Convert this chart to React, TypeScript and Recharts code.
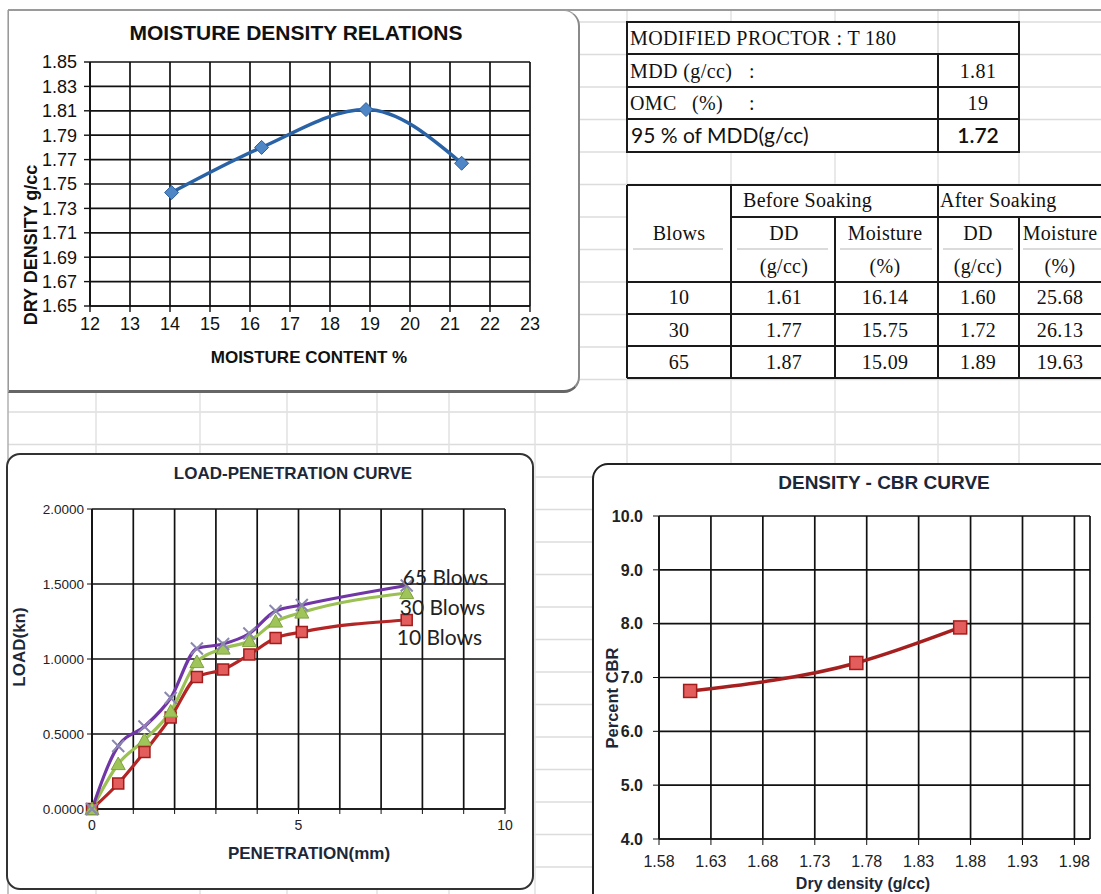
import React from 'react';
import { LineChart, Line, XAxis, YAxis, CartesianGrid, LabelList } from 'recharts';

// ---------- Moisture density relations ----------
const moistureContent = [14.04, 16.29, 18.9, 21.29];
const dryDensity = [1.743, 1.78, 1.811, 1.767];
const mdXTicks = [12, 13, 14, 15, 16, 17, 18, 19, 20, 21, 22, 23];
const mdYTicks = [1.65, 1.67, 1.69, 1.71, 1.73, 1.75, 1.77, 1.79, 1.81, 1.83, 1.85];

// ---------- Load-penetration curve ----------
const penetration = [0, 0.635, 1.27, 1.905, 2.54, 3.175, 3.81, 4.445, 5.08, 7.62];
const load10Blows = [0, 0.17, 0.38, 0.61, 0.88, 0.93, 1.03, 1.14, 1.18, 1.26];
const load30Blows = [0, 0.3, 0.46, 0.65, 0.98, 1.07, 1.12, 1.25, 1.31, 1.44];
const load65Blows = [0, 0.42, 0.55, 0.74, 1.07, 1.1, 1.17, 1.32, 1.36, 1.49];
const blowLabels = ['10 Blows', '30 Blows', '65 Blows'];
const lpXTicks = [0, 1, 2, 3, 4, 5, 6, 7, 8, 9, 10];
const lpXLabelled = [0, 5, 10];
const lpYTicks = [0, 0.5, 1, 1.5, 2];

// ---------- Density - CBR curve ----------
const cbrDryDensity = [1.61, 1.77, 1.87];
const cbrPercent = [6.75, 7.27, 7.93];
const dcXTicks = [1.58, 1.63, 1.68, 1.73, 1.78, 1.83, 1.88, 1.93, 1.98];
const dcYTicks = [4, 5, 6, 7, 8, 9, 10];

// ---------- Tables ----------
const proctorLabels = ['MDD (g/cc)', 'OMC', '95 % of MDD(g/cc)'];
const proctorValues = ['1.81', '19', '1.72'];
const blowsCol = ['10', '30', '65'];
const ddBefore = ['1.61', '1.77', '1.87'];
const moistureBefore = ['16.14', '15.75', '15.09'];
const ddAfter = ['1.60', '1.72', '1.89'];
const moistureAfter = ['25.68', '26.13', '19.63'];

const SANS = '"Liberation Sans", Arial, sans-serif';
const NARROW = '"Liberation Sans Narrow", "Arial Narrow", "Liberation Sans", Arial, sans-serif';
const SERIF = '"Liberation Serif", "Times New Roman", serif';
const CAL = 'Lato, "Open Sans", sans-serif';
const NAVY = '#1c2738';

const mdData = moistureContent.map((m, i) => ({ m, d: dryDensity[i] }));
const lpData = penetration.map((p, i) => ({ p, a: load10Blows[i], b: load30Blows[i], c: load65Blows[i] }));
const dcData = cbrDryDensity.map((x, i) => ({ x, y: cbrPercent[i] }));

const diamondDot = (props: any) => {
  const { cx, cy, index } = props;
  const r = 7;
  return (
    <path key={`dm-${index}`} d={`M${cx},${cy - r} L${cx + r},${cy} L${cx},${cy + r} L${cx - r},${cy} Z`} fill="#4f86c6" stroke="#2d5f9c" strokeWidth={1} />
  );
};
const squareDot = (size: number) => (props: any) => {
  const { cx, cy, index } = props;
  return <rect key={`sq-${size}-${index}`} x={cx - size / 2} y={cy - size / 2} width={size} height={size} fill="#e35d5d" stroke="#a31c1c" strokeWidth={1.5} />;
};
const triangleDot = (props: any) => {
  const { cx, cy, index } = props;
  const r = 7;
  return <path key={`tr-${index}`} d={`M${cx},${cy - r} L${cx + r},${cy + r * 0.8} L${cx - r},${cy + r * 0.8} Z`} fill="#9fc55a" stroke="#7fa23e" strokeWidth={1} />;
};
const crossDot = (props: any) => {
  const { cx, cy, index } = props;
  const r = 6;
  return (
    <path key={`cx-${index}`} d={`M${cx - r},${cy - r} L${cx + r},${cy + r} M${cx - r},${cy + r} L${cx + r},${cy - r}`} stroke="#8a88ae" strokeWidth={2} fill="none" />
  );
};

const endLabel = (text: string, dx: number, dy: number) => (props: any) => {
  const { index } = props;
  const x = props.x ?? props.viewBox?.x;
  const y = props.y ?? props.viewBox?.y;
  if (index !== penetration.length - 1 || x == null || y == null) return null;
  return (
    <text key={`lbl-${text}`} x={x + dx} y={y + dy} fontSize={21} fontFamily={CAL} fill="#222">
      {text}
    </text>
  );
};

const sheetCols = [96, 200, 287, 377, 449, 535, 627, 731, 835, 938, 1019];
const sheetRows: number[] = [];
for (let k = 0; k < 28; k++) sheetRows.push(22 + 32.5 * k);

const gridStroke = '#111';

export default function App() {
  const col2 = [679, 784, 885, 978, 1060];
  const rowsY = [304, 337, 369];
  return (
    <div style={{ position: 'absolute', left: 0, top: 0, width: 1101, height: 894, background: '#fff', overflow: 'hidden' }}>
      {/* spreadsheet background */}
      <svg width={1101} height={894} style={{ position: 'absolute', left: 0, top: 0 }}>
        {sheetRows.map((y) => (
          <line key={`r${y}`} x1={8} x2={1101} y1={y} y2={y} stroke="#dcdcdc" strokeWidth={1.5} />
        ))}
        {sheetCols.map((x) => (
          <line key={`c${x}`} x1={x} x2={x} y1={10} y2={894} stroke="#e2e2e2" strokeWidth={1.5} />
        ))}
        <line x1={8} x2={1101} y1={10} y2={10} stroke="#9a9a9a" strokeWidth={2} />
        <line x1={8} x2={8} y1={10} y2={894} stroke="#b0b0b0" strokeWidth={1.5} />
      </svg>

      {/* panels */}
      <div style={{ position: 'absolute', left: 8, top: 10, width: 572, height: 383, boxSizing: 'border-box', background: '#fff', borderTop: '1.5px solid #9a9a9a', borderLeft: '1.5px solid #9a9a9a', borderRight: '2px solid #8a8a8a', borderBottom: '3px solid #666', borderRadius: '0 16px 16px 0' }} />
      <div style={{ position: 'absolute', left: 6, top: 453, width: 528, height: 437, boxSizing: 'border-box', background: '#fff', border: '2px solid #333', borderRadius: 14 }} />
      <div style={{ position: 'absolute', left: 592, top: 463, width: 540, height: 460, boxSizing: 'border-box', background: '#fff', border: '2px solid #222', borderTopLeftRadius: 16 }} />

      {/* Moisture density chart */}
      <div style={{ position: 'absolute', left: 0, top: 0 }}>
        <LineChart width={560} height={400} data={mdData} margin={{ top: 62, right: 30, bottom: 64, left: 0 }}>
          <CartesianGrid stroke={gridStroke} strokeWidth={1.7} />
          <XAxis dataKey="m" type="number" domain={[12, 23]} ticks={mdXTicks} interval={0} height={30} tickSize={6} tickMargin={5}
            axisLine={{ stroke: gridStroke, strokeWidth: 1.7 }} tickLine={{ stroke: gridStroke, strokeWidth: 1.4 }}
            tick={{ fill: '#111', fontSize: 18, fontFamily: NARROW }} />
          <YAxis type="number" domain={[1.65, 1.85]} ticks={mdYTicks} interval={0} width={90} tickSize={6} tickMargin={7}
            tickFormatter={(v: number) => v.toFixed(2)}
            axisLine={{ stroke: gridStroke, strokeWidth: 1.7 }} tickLine={{ stroke: gridStroke, strokeWidth: 1.4 }}
            tick={{ fill: '#111', fontSize: 18, fontFamily: NARROW }} />
          <Line dataKey="d" type="monotone" stroke="#2a62a6" strokeWidth={3.5} dot={diamondDot} isAnimationActive={false} />
        </LineChart>
      </div>

      {/* Load penetration chart */}
      <div style={{ position: 'absolute', left: 0, top: 440 }}>
        <LineChart width={540} height={450} data={lpData} margin={{ top: 69, right: 35, bottom: 51, left: 0 }}>
          <CartesianGrid stroke={gridStroke} strokeWidth={1.7} />
          <XAxis dataKey="p" type="number" domain={[0, 10]} ticks={lpXTicks} interval={0} height={30} tickSize={5} tickMargin={6}
            tickFormatter={(v: number) => (lpXLabelled.includes(v) ? String(v) : '')}
            axisLine={{ stroke: gridStroke, strokeWidth: 1.7 }} tickLine={{ stroke: gridStroke }}
            tick={{ fill: '#222', fontSize: 14, fontFamily: SANS }} />
          <YAxis type="number" domain={[0, 2]} ticks={lpYTicks} interval={0} width={92} tickSize={5} tickMargin={3}
            tickFormatter={(v: number) => v.toFixed(4)}
            axisLine={{ stroke: gridStroke, strokeWidth: 1.7 }} tickLine={{ stroke: gridStroke }}
            tick={{ fill: '#222', fontSize: 13.5, fontFamily: SANS }} />
          <Line dataKey="a" name={blowLabels[0]} type="monotone" stroke="#b42525" strokeWidth={3.2} dot={squareDot(11)} isAnimationActive={false}>
            <LabelList dataKey="a" content={endLabel(blowLabels[0], -10, 25)} />
          </Line>
          <Line dataKey="b" name={blowLabels[1]} type="monotone" stroke="#9bc053" strokeWidth={3.2} dot={triangleDot} isAnimationActive={false}>
            <LabelList dataKey="b" content={endLabel(blowLabels[1], -7, 22)} />
          </Line>
          <Line dataKey="c" name={blowLabels[2]} type="monotone" stroke="#7036a6" strokeWidth={3.2} dot={crossDot} isAnimationActive={false}>
            <LabelList dataKey="c" content={endLabel(blowLabels[2], -4, -1)} />
          </Line>
        </LineChart>
      </div>

      {/* Density CBR chart */}
      <div style={{ position: 'absolute', left: 590, top: 460 }}>
        <LineChart width={511} height={434} data={dcData} margin={{ top: 56, right: 11, bottom: 25, left: 0 }}>
          <CartesianGrid stroke={gridStroke} strokeWidth={1.7} />
          <XAxis dataKey="x" type="number" domain={[1.58, 1.995]} ticks={dcXTicks} interval={0} height={30} tickSize={6} tickMargin={11}
            tickFormatter={(v: number) => v.toFixed(2)} allowDataOverflow
            axisLine={{ stroke: gridStroke, strokeWidth: 1.7 }} tickLine={{ stroke: gridStroke }}
            tick={{ fill: '#222', fontSize: 16, fontFamily: SANS }} />
          <YAxis type="number" domain={[4, 10]} ticks={dcYTicks} interval={0} width={69} tickSize={6} tickMargin={10}
            tickFormatter={(v: number) => v.toFixed(1)}
            axisLine={{ stroke: gridStroke, strokeWidth: 1.7 }} tickLine={{ stroke: gridStroke }}
            tick={{ fill: '#222', fontSize: 16, fontFamily: SANS, fontWeight: 600 }} />
          <YAxis yAxisId="border" orientation="right" width={0} tick={false} tickLine={false} domain={[0, 1]}
            axisLine={{ stroke: gridStroke, strokeWidth: 1.7 }} />
          <Line dataKey="y" type="monotone" stroke="#a61f1f" strokeWidth={3.5} dot={squareDot(13)} isAnimationActive={false} />
        </LineChart>
      </div>

      {/* titles, axis titles and tables */}
      <svg width={1101} height={894} style={{ position: 'absolute', left: 0, top: 0, pointerEvents: 'none' }}>
        <g fontFamily={SANS} fontWeight="bold" fill="#111" style={{ whiteSpace: 'pre' }}>
          <text x={296} y={40} fontSize={21} textAnchor="middle">MOISTURE DENSITY RELATIONS</text>
          <text transform="translate(37,245) rotate(-90)" fontSize={18} fontFamily={NARROW} textAnchor="middle">{'DRY DENSITY  g/cc'}</text>
          <text x={309} y={363} fontSize={17} textAnchor="middle">{'MOISTURE CONTENT  %'}</text>
          <text x={293} y={479} fontSize={17} textAnchor="middle" fill={NAVY}>{'LOAD-PENETRATION  CURVE'}</text>
          <text transform="translate(25,647) rotate(-90)" fontSize={17} textAnchor="middle" fill={NAVY}>LOAD(kn)</text>
          <text x={309} y={859} fontSize={17} textAnchor="middle" fill={NAVY}>PENETRATION(mm)</text>
          <text x={884} y={489} fontSize={19} textAnchor="middle" fill={NAVY}>{'DENSITY  - CBR  CURVE'}</text>
          <text transform="translate(618,698) rotate(-90)" fontSize={16.5} textAnchor="middle" fill={NAVY}>Percent CBR</text>
          <text x={863} y={889} fontSize={16} textAnchor="middle" fill={NAVY}>Dry density (g/cc)</text>
        </g>

        {/* table 1 */}
        <rect x={627} y={22} width={392} height={130} fill="#fff" />
        <line x1={938} x2={938} y1={22} y2={54} stroke="#d8d8d8" strokeWidth={1.5} />
        <g stroke="#1a1a1a" strokeWidth={2}>
          <rect x={627} y={22} width={392} height={130} fill="none" />
          <line x1={627} x2={1019} y1={54} y2={54} />
          <line x1={627} x2={1019} y1={87} y2={87} />
          <line x1={627} x2={1019} y1={119} y2={119} />
          <line x1={938} x2={938} y1={54} y2={152} />
        </g>
        <g fontFamily={SERIF} fontSize={20} fill="#111" letterSpacing={0.4}>
          <text x={630} y={45}>MODIFIED PROCTOR : T 180</text>
          <text x={630} y={78}>{proctorLabels[0]}</text>
          <text x={749} y={78}>:</text>
          <text x={978} y={78} textAnchor="middle">{proctorValues[0]}</text>
          <text x={630} y={110}>{proctorLabels[1]}</text>
          <text x={692} y={110}>(%)</text>
          <text x={749} y={110}>:</text>
          <text x={978} y={110} textAnchor="middle">{proctorValues[1]}</text>
        </g>
        <g fontFamily={CAL} fontSize={21} fill="#111">
          <text x={631} y={143}>{proctorLabels[2]}</text>
          <text x={978} y={143} textAnchor="middle" fontWeight={600}>{proctorValues[2]}</text>
        </g>

        {/* table 2 */}
        <rect x={627} y={185} width={474} height={193} fill="#fff" />
        <g stroke="#cfcfcf" strokeWidth={1.5}>
          <line x1={633} x2={723} y1={249} y2={249} />
          <line x1={737} x2={828} y1={249} y2={249} />
          <line x1={840} x2={932} y1={249} y2={249} />
          <line x1={943} x2={1013} y1={249} y2={249} />
          <line x1={1023} x2={1101} y1={249} y2={249} />
        </g>
        <g stroke="#1a1a1a" strokeWidth={2}>
          <line x1={627} x2={1101} y1={185} y2={185} />
          <line x1={731} x2={1101} y1={217} y2={217} />
          <line x1={627} x2={1101} y1={282} y2={282} />
          <line x1={627} x2={1101} y1={314} y2={314} />
          <line x1={627} x2={1101} y1={346} y2={346} />
          <line x1={627} x2={1101} y1={378} y2={378} />
          <line x1={627} x2={627} y1={185} y2={378} />
          <line x1={731} x2={731} y1={185} y2={378} />
          <line x1={835} x2={835} y1={217} y2={378} />
          <line x1={938} x2={938} y1={185} y2={378} />
          <line x1={1019} x2={1019} y1={217} y2={378} />
        </g>
        <g fontFamily={SERIF} fontSize={20} fill="#111" letterSpacing={0.3}>
          <text x={743} y={207}>Before Soaking</text>
          <text x={940} y={207}>After Soaking</text>
          <text x={col2[0]} y={240} textAnchor="middle">Blows</text>
          <text x={col2[1]} y={240} textAnchor="middle">DD</text>
          <text x={col2[2]} y={240} textAnchor="middle">Moisture</text>
          <text x={col2[3]} y={240} textAnchor="middle">DD</text>
          <text x={col2[4]} y={240} textAnchor="middle">Moisture</text>
          <text x={col2[1]} y={273} textAnchor="middle">(g/cc)</text>
          <text x={col2[2]} y={273} textAnchor="middle">(%)</text>
          <text x={col2[3]} y={273} textAnchor="middle">(g/cc)</text>
          <text x={col2[4]} y={273} textAnchor="middle">(%)</text>
          {blowsCol.map((b, i) => (
            <g key={`row${b}`}>
              <text x={col2[0]} y={rowsY[i]} textAnchor="middle">{b}</text>
              <text x={col2[1]} y={rowsY[i]} textAnchor="middle">{ddBefore[i]}</text>
              <text x={col2[2]} y={rowsY[i]} textAnchor="middle">{moistureBefore[i]}</text>
              <text x={col2[3]} y={rowsY[i]} textAnchor="middle">{ddAfter[i]}</text>
              <text x={col2[4]} y={rowsY[i]} textAnchor="middle">{moistureAfter[i]}</text>
            </g>
          ))}
        </g>
      </svg>
    </div>
  );
}
